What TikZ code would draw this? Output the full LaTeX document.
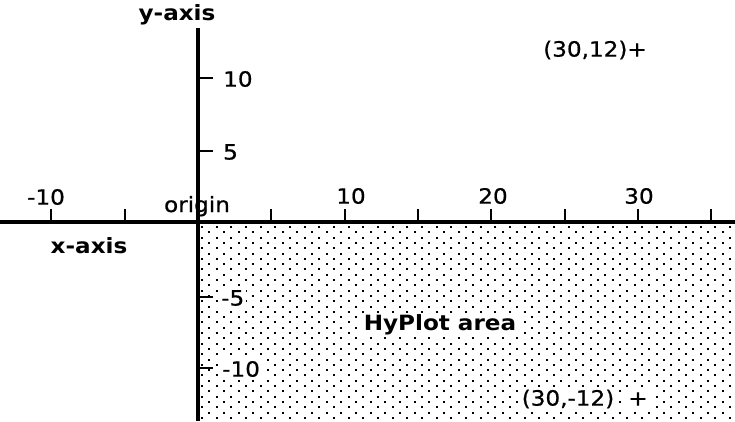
\documentclass[tikz,border=0pt]{standalone}
\usepackage{fontspec}
\newfontfamily\gen[FakeStretch=1.1,FakeBold=0.7]{DejaVu Sans}
\newfontfamily\chic[FakeStretch=1.1]{DejaVu Sans}
\tikzset{
  lbl/.style={font=\gen\fontsize{21}{22}\selectfont, inner sep=1pt},
  bl/.style={font=\chic\bfseries\fontsize{21}{22}\selectfont, inner sep=1pt},
  wbg/.style={fill=white, inner sep=2pt},
  axisline/.style={line width=4pt},
  tickline/.style={line width=2pt},
}
\begin{document}
\begin{tikzpicture}[x=1pt,y=-1pt]
\useasboundingbox (0,0) rectangle (735,421);
% dotted HyPlot area
\begin{scope}
  \clip (200,224) rectangle (735,421);
  \foreach \r in {0,...,37} {
    \pgfmathsetmacro\yy{226+\r*5.3}
    \pgfmathsetmacro\off{mod(\r,2)*7.33}
    \foreach \c in {0,...,37} {
      \fill (201+\off+\c*14.67,\yy) rectangle ++(2,2);
    }
  }
\end{scope}
% axes
\coordinate (xl) at (0,222);
\coordinate (xr) at (735,222);
\coordinate (yt) at (198,28);
\coordinate (yb) at (198,421);
\draw[axisline] (xl) -- (xr);
\draw[axisline] (yt) -- (yb);
% x ticks
\foreach \k in {-2,-1,1,2,3,4,5,6,7} {
  \coordinate (xt\k) at ({198+\k*73.3},222);
  \draw[tickline] (xt\k) -- ++(0,-13);
}
% y ticks
\foreach \n/\yy in {p10/78,p5/151,m5/297,m10/368} {
  \coordinate (yt\n) at (198,\yy);
  \draw[tickline] (yt\n) -- ++(15,0);
}
% labels
\node[bl] (yax) at (177,15) {y-axis};
\node[bl] (xax) at (89,246) {x-axis};
\node[lbl] (xm10) at (46,197) {-10};
\node[lbl] (x10) at (351,196) {10};
\node[lbl] (x20) at (493,196) {20};
\node[lbl] (x30) at (639,196) {30};
\node[lbl, anchor=base] (orig) at (197,212) {origin};
\node[lbl, anchor=west] (y10) at (222,79) {10};
\node[lbl, anchor=west] (y5) at (222,152) {5};
\node[lbl, wbg, anchor=west] (ym5) at (219,298) {-5};
\node[lbl, wbg, anchor=west] (ym10) at (220,369) {-10};
\node[lbl] (p1) at (595,50) {(30,12)+};
\node[lbl, wbg] (p2) at (568,399) {(30,-12)};
\node[lbl, wbg] (p2plus) at (638,399) {+};
\node[bl, wbg] (hy) at (440,325) {HyPlot area};
\end{tikzpicture}
\end{document}
